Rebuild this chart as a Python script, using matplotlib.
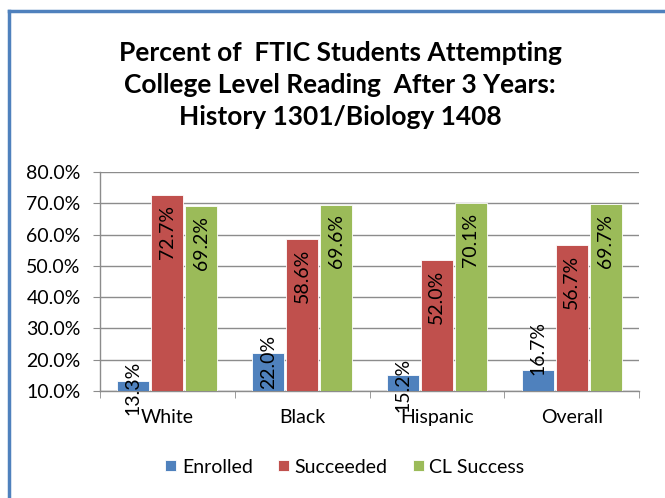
import matplotlib
matplotlib.use("Agg")
import matplotlib.pyplot as plt
from matplotlib.lines import Line2D
from matplotlib.ticker import FuncFormatter, FixedLocator
import numpy as np

categories = ["White", "Black", "Hispanic", "Overall"]
enrolled = [13.3, 22.0, 15.2, 16.7]
succeeded = [72.7, 58.6, 52.0, 56.7]
cl_success = [69.2, 69.6, 70.1, 69.7]
series_names = ["Enrolled", "Succeeded", "CL Success"]
colors = ["#4F81BD", "#C0504D", "#9BBB59"]
title = "Percent of  FTIC Students Attempting\nCollege Level Reading  After 3 Years:\nHistory 1301/Biology 1408"

plt.rcParams['font.family'] = ['Lato', 'DejaVu Sans']

W, H = 665, 498
fig = plt.figure(figsize=(W / 100, H / 100), dpi=100)
ax = fig.add_axes([100 / W, 1 - 391 / H, 539 / W, 219 / H])

x = np.arange(len(categories))
bw = 0.237
step = 0.252
series = [enrolled, succeeded, cl_success]
bars = []
for k, (vals, c, name) in enumerate(zip(series, colors, series_names)):
    b = ax.bar(x + (k - 1) * step, vals, width=bw, color=c, edgecolor="white",
               linewidth=0.6, label=name, zorder=3)
    bars.append(b)

fs = 14
# data labels
blue_offsets = [-5, -6, -7, 16]
for i, v in enumerate(enrolled):
    ax.annotate(f"{v:.1f}%", (x[i] - step, v), xytext=(0, blue_offsets[i]),
                textcoords="offset points", rotation=90, ha="center", va="center",
                fontsize=fs, color="black", zorder=5, annotation_clip=False)
for k, vals in [(1, succeeded), (2, cl_success)]:
    for i, v in enumerate(vals):
        ax.annotate(f"{v:.1f}%", (x[i] + (k - 1) * step, v), xytext=(0, -7),
                    textcoords="offset points", rotation=90, ha="center", va="top",
                    fontsize=fs, color="black", zorder=5)

ax.set_xlim(-0.5, len(categories) - 0.5)
ax.set_ylim(10, 80)
ax.set_yticks(np.arange(10, 81, 10))
ax.yaxis.set_major_formatter(FuncFormatter(lambda v, p: f"{v:.1f}%"))
ax.grid(axis="y", color="#8C8C8C", linewidth=1, zorder=0)
ax.set_axisbelow(True)

ax.set_xticks(x)
ax.set_xticklabels(categories)
ax.xaxis.set_minor_locator(FixedLocator(np.arange(-0.5, len(categories), 1.0)))
ax.tick_params(axis="x", which="major", length=0, pad=13, labelsize=fs)
ax.tick_params(axis="x", which="minor", length=5, color="#8C8C8C", direction="out")
ax.tick_params(axis="y", length=5, color="#8C8C8C", pad=9, labelsize=fs)

for s in ["top", "right"]:
    ax.spines[s].set_visible(False)
for s in ["left", "bottom"]:
    ax.spines[s].set_color("#8C8C8C")
    ax.spines[s].set_linewidth(1)

fig.text(340 / W, 1 - 85 / H, title, ha="center", va="center", fontsize=19,
         fontweight="bold", linespacing=1.38)

fig.legend(handles=bars, labels=series_names, loc="center", ncol=3,
           bbox_to_anchor=(345 / W, 1 - 467 / H), frameon=False, fontsize=fs,
           handlelength=0.55, handleheight=0.55, handletextpad=0.3, columnspacing=1.3)

# blue chart border
fig.add_artist(Line2D([9 / W, 9 / W], [0, 1 - 11 / H], transform=fig.transFigure,
                      color="#4F81BD", linewidth=2.5))
fig.add_artist(Line2D([9 / W, 1], [1 - 11 / H, 1 - 11 / H], transform=fig.transFigure,
                      color="#4F81BD", linewidth=2.5))

fig.savefig("out.png", dpi=100, facecolor="white")
